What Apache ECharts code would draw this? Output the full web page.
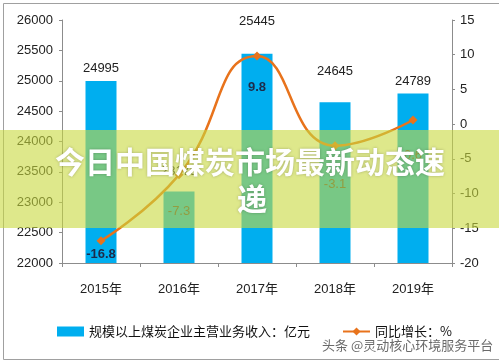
<!DOCTYPE html>
<html><head><meta charset="utf-8">
<script src="https://cdn.jsdelivr.net/npm/echarts@6/dist/echarts.min.js"></script>
<style>html,body{margin:0;padding:0;background:#fff}#c{width:499px;height:360px}</style>
</head><body><div id="c"></div>
<script>
const categories = ['2015年','2016年','2017年','2018年','2019年'];
const revenue = [24995, 23175, 25445, 24645, 24789];
const growth = [-16.8, -7.3, 9.8, -3.1, 0.6];
const leftTicks = {min: 22000, max: 26000, interval: 500};
const rightTicks = {min: -20, max: 15, interval: 5};
const barName = '规模以上煤炭企业主营业务收入：亿元';
const lineName = '同比增长：%';
const bannerText1 = '今日中国煤炭市场最新动态速';
const bannerText2 = '递';
const watermark = '头条 @灵动核心环境服务平台';

const barLabelDist = [6, 14, 26, 24, 6];
const lineLabelDist = [3, 26, 20, 28, 24];
const lineLabelBold = [true, false, true, false, false];

const chart = echarts.init(document.getElementById('c'), null, {renderer: 'canvas'});
const font = "'Liberation Sans', 'Noto Sans CJK SC', sans-serif";
chart.setOption({
  animation: false,
  backgroundColor: '#fff',
  grid: {left: 62, right: 47, top: 20, bottom: 97},
  legend: {
    left: 52, top: 320, itemWidth: 27, itemHeight: 10, itemGap: 32,
    textStyle: {fontSize: 13, color: '#111', fontFamily: "'Noto Sans CJK SC', sans-serif"},
    data: [{name: barName, icon: 'rect'}, {name: lineName}]
  },
  xAxis: {
    type: 'category', data: categories, boundaryGap: true,
    axisLine: {onZero: false, lineStyle: {color: '#8c8c8c'}},
    axisTick: {show: true, length: 4, lineStyle: {color: '#8c8c8c'}},
    axisLabel: {margin: 20, fontSize: 13, color: '#222', fontFamily: font}
  },
  yAxis: [
    {type: 'value', min: leftTicks.min, max: leftTicks.max, interval: leftTicks.interval,
     axisLine: {show: true, lineStyle: {color: '#8c8c8c'}},
     axisTick: {show: true, length: 3, inside: false, lineStyle: {color: '#8c8c8c'}},
     splitLine: {show: false},
     axisLabel: {fontSize: 13, color: '#222', margin: 9, fontFamily: font, formatter: v => String(v)}},
    {type: 'value', min: rightTicks.min, max: rightTicks.max, interval: rightTicks.interval,
     axisLine: {show: true, lineStyle: {color: '#8c8c8c'}},
     axisTick: {show: true, length: 3, lineStyle: {color: '#8c8c8c'}},
     splitLine: {show: false},
     axisLabel: {fontSize: 13, color: '#222', margin: 8, fontFamily: font, formatter: v => String(v)}}
  ],
  series: [
    {name: barName, type: 'bar', yAxisIndex: 0, barWidth: 31,
     itemStyle: {color: '#00AEEF'},
     data: revenue.map((v, i) => ({value: v, label: {distance: barLabelDist[i]}})),
     label: {show: true, position: 'top', fontSize: 13, color: '#222', fontFamily: font, formatter: p => String(p.value)}},
    {name: lineName, type: 'line', yAxisIndex: 1, smooth: 0.5, z: 5,
     symbol: 'diamond', symbolSize: 9,
     lineStyle: {color: '#E8731C', width: 2.5},
     itemStyle: {color: '#E8731C'},
     data: growth.map((v, i) => ({value: v, label: {distance: lineLabelDist[i],
        fontWeight: lineLabelBold[i] ? 'bold' : 'normal',
        color: lineLabelBold[i] ? '#1d2b4a' : '#444'}})),
     label: {show: true, position: 'bottom', fontSize: 13, fontFamily: font}}
  ],
  graphic: [
    {type: 'rect', left: 1, top: 1, shape: {width: 496, height: 356},
     style: {fill: 'none', stroke: '#a0a0a0', lineWidth: 1}, z: 100},
    {type: 'rect', left: 0, top: 130, shape: {width: 499, height: 98},
     style: {fill: 'rgba(200,216,62,0.6)'}, z: 200},
    {type: 'text', x: 250, y: 162, z: 210,
     style: {text: bannerText1, fill: '#fff', font: "bold 30px 'Noto Sans CJK SC', sans-serif",
       textAlign: 'center', textVerticalAlign: 'middle',
       textShadowColor: 'rgba(0,0,0,0.25)', textShadowBlur: 3}},
    {type: 'text', x: 252, y: 199, z: 210,
     style: {text: bannerText2, fill: '#fff', font: "bold 30px 'Noto Sans CJK SC', sans-serif",
       textAlign: 'center', textVerticalAlign: 'middle',
       textShadowColor: 'rgba(0,0,0,0.25)', textShadowBlur: 3}},
    {type: 'text', x: 322, y: 345, z: 210,
     style: {text: watermark, fill: 'rgba(80,80,80,0.85)', font: "13px 'Noto Sans CJK SC', sans-serif",
       textVerticalAlign: 'middle', stroke: 'rgba(255,255,255,0.8)', lineWidth: 2}}
  ]
});
</script></body></html>
